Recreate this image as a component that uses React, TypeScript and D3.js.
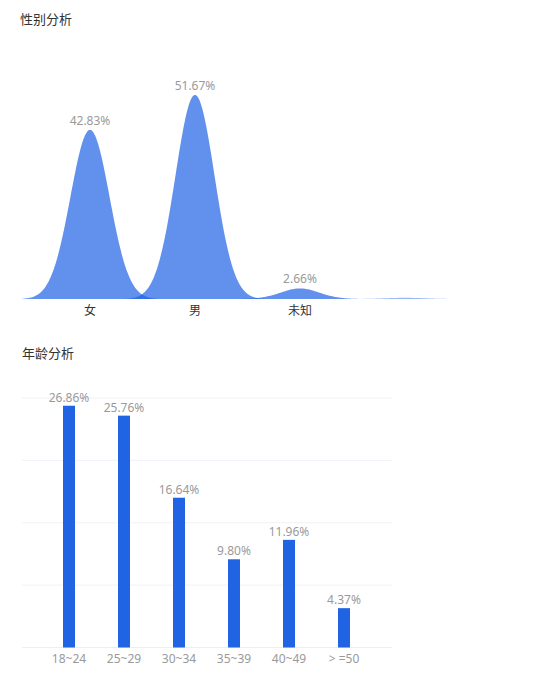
import React from 'react'
import * as d3 from 'd3'

// gender distribution (percent)
const genderCategories = ['女', '男', '未知', '']
const genderValues = [42.83, 51.67, 2.66, 0.3]
const genderLabels = ['42.83%', '51.67%', '2.66%', '']

// age distribution (percent)
const ageCategories = ['18~24', '25~29', '30~34', '35~39', '40~49', '> =50']
const ageValues = [26.86, 25.76, 16.64, 9.8, 11.96, 4.37]
const ageLabels = ['26.86%', '25.76%', '16.64%', '9.80%', '11.96%', '4.37%']
const ageAxisMax = 27.72
const ageGridCount = 4

const W = 537
const H = 689
const FONT = '"Noto Sans", "Noto Sans CJK SC", sans-serif'

const GenderChart = () => {
  const baseY = 299
  const x = d3.scalePoint<string>().domain(genderCategories).range([90, 405])
  const y = d3.scaleLinear().domain([0, 60]).range([baseY, baseY - 237])
  const halfW = 70
  const sigma = 19.5
  const offsets = d3.range(-halfW, halfW + 1, 1)
  const floor = Math.exp(-0.5 * (halfW / sigma) ** 2)
  const area = d3
    .area<[number, number]>()
    .x(d => d[0])
    .y0(baseY)
    .y1(d => d[1])
    .curve(d3.curveBasis)

  return (
    <g>
      <text x={20} y={24} fontSize={13} fill="#333" fontFamily={FONT}>
        性别分析
      </text>
      {genderCategories.map((c, i) => {
        const cx = x(c) as number
        const v = genderValues[i]
        const pts = offsets.map(dx => {
          const g = (Math.exp(-0.5 * (dx / sigma) ** 2) - floor) / (1 - floor)
          return [cx + dx, y(v * g)] as [number, number]
        })
        return (
          <path
            key={'m' + i}
            d={area(pts) || ''}
            fill="#1f63e6"
            fillOpacity={i === 3 ? 0.45 : 0.7}
          />
        )
      })}
      {genderCategories.map((c, i) => (
        <text
          key={'v' + i}
          x={x(c)}
          y={y(genderValues[i]) - 5}
          textAnchor="middle"
          fontSize={12}
          fill="#9a9a9a"
          fontFamily={FONT}
        >
          {genderLabels[i]}
        </text>
      ))}
      {genderCategories.map((c, i) => (
        <text
          key={'c' + i}
          x={x(c)}
          y={315}
          textAnchor="middle"
          fontSize={12}
          fill="#333"
          fontFamily={FONT}
        >
          {c}
        </text>
      ))}
    </g>
  )
}

const AgeChart = () => {
  const left = 22
  const right = 392
  const baseY = 647.5
  const y = d3.scaleLinear().domain([0, ageAxisMax]).range([baseY, 398])
  const x = d3
    .scaleBand<string>()
    .domain(ageCategories)
    .range([41.5, 371.5])
    .paddingInner(43 / 55)
    .paddingOuter(21.5 / 55)
  const grid = d3.range(ageGridCount + 1).map(i => (ageAxisMax * i) / ageGridCount)

  return (
    <g>
      <text x={22} y={358} fontSize={13} fill="#333" fontFamily={FONT}>
        年龄分析
      </text>
      {grid.map((g, i) => (
        <line
          key={'g' + i}
          x1={left}
          x2={right}
          y1={y(g)}
          y2={y(g)}
          stroke={i === 0 ? '#eceef4' : '#f1f2f7'}
          strokeWidth={1}
        />
      ))}
      {ageCategories.map((c, i) => (
        <rect
          key={'b' + i}
          x={x(c)}
          y={y(ageValues[i])}
          width={x.bandwidth()}
          height={baseY - y(ageValues[i])}
          fill="#2063e3"
        />
      ))}
      {ageCategories.map((c, i) => (
        <text
          key={'l' + i}
          x={(x(c) as number) + x.bandwidth() / 2}
          y={y(ageValues[i]) - 4}
          textAnchor="middle"
          fontSize={12}
          fill="#9a9a9a"
          fontFamily={FONT}
        >
          {ageLabels[i]}
        </text>
      ))}
      {ageCategories.map((c, i) => (
        <text
          key={'c' + i}
          x={(x(c) as number) + x.bandwidth() / 2}
          y={663}
          textAnchor="middle"
          fontSize={12}
          fill="#9a9a9a"
          fontFamily={FONT}
        >
          {c}
        </text>
      ))}
    </g>
  )
}

export default function App() {
  return (
    <svg
      width={W}
      height={H}
      style={{ position: 'absolute', left: 0, top: 0, background: '#fff' }}
    >
      <GenderChart />
      <AgeChart />
    </svg>
  )
}
